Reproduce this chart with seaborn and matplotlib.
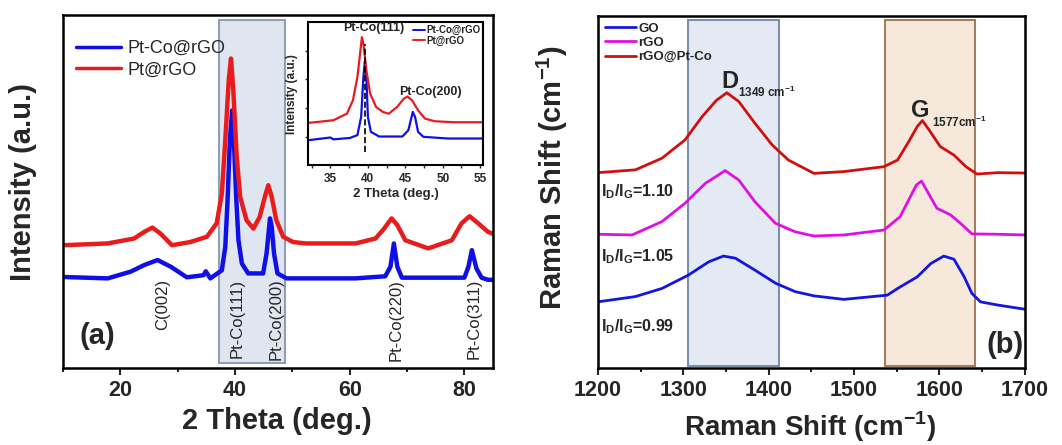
import numpy as np
import pandas as pd
import matplotlib
matplotlib.use("Agg")
import matplotlib.pyplot as plt
import seaborn as sns

# ---- XRD data (panel a) ----
xrd_x_red = [10.0, 17.8, 22.4, 24.2, 25.6, 27.0, 29.0, 32.2, 35.1, 36.8, 37.7, 38.3, 38.9, 39.3,
             39.7, 40.3, 40.9, 42.0, 43.2, 44.3, 45.2, 45.8, 46.4, 47.2, 48.4, 50.1, 52.4, 61.0,
             64.5, 66.0, 67.3, 68.3, 69.7, 73.7, 77.8, 79.5, 80.9, 82.4, 84.1, 85.0]
xrd_y_red = [34.8, 35.3, 36.7, 38.6, 39.8, 38.1, 34.8, 35.7, 37.2, 41.0, 49.4, 64.5, 81.5, 87.7,
             78.7, 59.8, 48.5, 41.9, 39.5, 42.8, 48.5, 51.8, 48.5, 41.9, 37.2, 35.7, 35.3, 35.3,
             36.7, 39.5, 42.4, 40.5, 36.2, 33.9, 36.2, 41.0, 43.0, 41.0, 38.6, 38.0]
xrd_x_blue = [10.0, 17.8, 21.8, 24.2, 26.5, 28.8, 31.6, 34.5, 34.9, 35.7, 37.7, 38.3, 38.7, 39.1,
              39.5, 39.8, 40.2, 40.6, 41.2, 42.3, 44.9, 45.5, 46.1, 46.4, 46.8, 47.4, 49.0, 61.0,
              66.2, 67.1, 67.7, 68.3, 69.1, 80.0, 80.7, 81.3, 82.1, 83.0, 84.1, 85.0]
xrd_y_blue = [25.8, 25.4, 27.3, 29.2, 30.6, 28.7, 25.7, 26.3, 27.4, 25.4, 27.7, 34.3, 47.5, 64.5,
              73.0, 64.5, 48.5, 36.2, 29.6, 26.8, 26.8, 32.5, 42.4, 40.0, 32.5, 26.8, 25.4, 25.4,
              26.0, 28.7, 35.3, 28.7, 25.6, 25.6, 28.7, 33.4, 28.2, 25.6, 25.0, 25.0]
peak_labels = ["C(002)", "Pt-Co(111)", "Pt-Co(200)", "Pt-Co(220)", "Pt-Co(311)"]
peak_pos = [27.4, 40.3, 47.2, 68.1, 81.7]

# inset (zoom on 32-55 deg)
ins_x_red = [32.0, 35.4, 37.2, 38.0, 38.6, 39.0, 39.2, 39.4, 39.8, 40.3, 41.1, 42.0, 42.8, 43.9,
             44.8, 45.3, 45.9, 46.7, 47.6, 48.9, 51.5, 55.4]
ins_y_red = [0.295, 0.314, 0.36, 0.453, 0.616, 0.80, 0.895, 0.85, 0.663, 0.50, 0.407, 0.372, 0.36,
             0.407, 0.465, 0.48, 0.453, 0.384, 0.326, 0.307, 0.30, 0.30]
ins_x_blue = [32.0, 35.0, 35.4, 37.6, 38.6, 39.1, 39.4, 39.6, 39.8, 40.0, 40.4, 41.5, 44.6, 45.4,
              46.0, 46.3, 46.7, 47.4, 50.7, 55.4]
ins_y_blue = [0.174, 0.193, 0.18, 0.19, 0.21, 0.337, 0.616, 0.73, 0.616, 0.337, 0.233, 0.20, 0.20,
              0.244, 0.372, 0.337, 0.233, 0.198, 0.186, 0.186]

# ---- Raman data (panel b) ----
ram_x_red = [1200, 1244, 1275, 1302, 1322, 1339, 1351, 1365, 1384, 1404, 1423, 1453, 1488, 1535,
             1551, 1564, 1574, 1580, 1588, 1601, 1617, 1631, 1644, 1668, 1700]
ram_y_red = [55.5, 56.3, 59.6, 64.8, 71.4, 76.1, 78.2, 75.7, 69.5, 63.4, 59.1, 55.3, 55.8, 57.2,
             59.1, 64.3, 68.6, 70.3, 67.6, 62.9, 60.5, 57.2, 55.1, 55.5, 55.4]
ram_x_mag = [1200, 1240, 1275, 1302, 1326, 1341, 1349, 1365, 1384, 1408, 1431, 1453, 1488, 1535,
             1554, 1566, 1573, 1579, 1586, 1597, 1613, 1627, 1638, 1668, 1700]
ram_y_mag = [38.0, 37.8, 41.6, 46.8, 52.5, 54.8, 56.1, 53.4, 47.2, 41.1, 38.7, 37.5, 37.8, 39.2,
             43.0, 48.7, 52.0, 53.1, 50.1, 45.4, 43.5, 40.6, 38.1, 38.0, 37.8]
ram_x_blue = [1200, 1244, 1275, 1306, 1330, 1347, 1361, 1384, 1408, 1431, 1453, 1488, 1539, 1551,
              1574, 1590, 1605, 1617, 1629, 1638, 1648, 1668, 1700]
ram_y_blue = [18.8, 20.3, 22.6, 26.4, 30.2, 31.8, 31.2, 27.8, 24.1, 21.7, 20.5, 19.5, 20.7, 22.6,
              25.9, 29.7, 31.8, 30.9, 25.9, 21.2, 18.8, 17.9, 16.7]
ratio_labels = ["1.10", "1.05", "0.99"]
ratio_y = [48.7, 30.2, 10.3]

xrd = pd.concat([
    pd.DataFrame({"x": xrd_x_blue, "y": xrd_y_blue, "s": "Pt-Co@rGO"}),
    pd.DataFrame({"x": xrd_x_red, "y": xrd_y_red, "s": "Pt@rGO"}),
])
ins = pd.concat([
    pd.DataFrame({"x": ins_x_blue, "y": ins_y_blue, "s": "Pt-Co@rGO"}),
    pd.DataFrame({"x": ins_x_red, "y": ins_y_red, "s": "Pt@rGO"}),
])
ram = pd.concat([
    pd.DataFrame({"x": ram_x_blue, "y": ram_y_blue, "s": "GO"}),
    pd.DataFrame({"x": ram_x_mag, "y": ram_y_mag, "s": "rGO"}),
    pd.DataFrame({"x": ram_x_red, "y": ram_y_red, "s": "rGO@Pt-Co"}),
])

sns.set_style("ticks")
plt.rcParams["font.family"] = ["Liberation Sans", "DejaVu Sans"]
plt.rcParams["mathtext.fontset"] = "custom"
plt.rcParams["mathtext.rm"] = "Liberation Sans"
plt.rcParams["mathtext.bf"] = "Liberation Sans:bold"

fig = plt.figure(figsize=(10.62, 4.45), dpi=100)
ax1 = fig.add_axes([0.0593, 0.173, 0.405, 0.793])
ax2 = fig.add_axes([0.563, 0.173, 0.402, 0.791])
axi = fig.add_axes([0.290, 0.629, 0.165, 0.321])

def style_axis(ax, lw=1.8):
    for sp in ax.spines.values():
        sp.set_visible(True)
        sp.set_linewidth(lw)
        sp.set_color("black")

# ---- panel (a) ----
ax1.axvspan(37.2, 48.7, ymin=0.014, ymax=0.986, facecolor="#dfe6f0", edgecolor="#8ea0b8", lw=1.5)
sns.lineplot(data=xrd, x="x", y="y", hue="s", palette=["#1010e6", "#e81c1c"], sort=False,
             estimator=None, lw=3.2, ax=ax1)
ax1.set_xlim(10, 85)
ax1.set_ylim(0, 100)
ax1.set_xticks([20, 40, 60, 80])
ax1.set_xticks([10, 30, 50, 70], minor=True)
ax1.set_yticks([])
ax1.tick_params(axis="x", which="major", direction="out", length=5, width=1.5, labelsize=15.5)
ax1.tick_params(axis="x", which="minor", direction="out", length=3, width=1.5)
for t in ax1.get_xticklabels():
    t.set_fontweight("bold")
ax1.set_xlabel("2 Theta (deg.)", fontsize=21, fontweight="bold")
ax1.set_ylabel("Intensity (a.u.)", fontsize=21, fontweight="bold")
ax1.xaxis.set_label_coords(0.498, -0.11)
ax1.yaxis.set_label_coords(-0.06, 0.527)
style_axis(ax1)
leg = ax1.legend(loc="upper left", bbox_to_anchor=(0.0, 0.965), frameon=False, fontsize=13,
                 handlelength=2.5, handletextpad=0.4, labelspacing=0.25, borderaxespad=0.3)
for h in leg.get_lines():
    h.set_linewidth(2.5)
for lab, xp in zip(peak_labels, peak_pos):
    ax1.text(xp, 25.3, lab, rotation=90, ha="center", va="top", fontsize=12)
ax1.text(16.0, 9.0, "(a)", ha="center", va="center", fontsize=21, fontweight="bold")

# ---- inset ----
sns.lineplot(data=ins, x="x", y="y", hue="s", palette=["#1010e6", "#e81c1c"], sort=False,
             estimator=None, lw=1.6, ax=axi)
axi.plot([39.65, 39.65], [0.093, 0.85], ls="--", color="black", lw=1.2)
axi.set_xlim(32, 55.4)
axi.set_ylim(0, 1)
axi.set_xticks([35, 40, 45, 50, 55])
axi.set_xticks([32.5, 37.5, 42.5, 47.5, 52.5], minor=True)
axi.set_yticks([0.2, 0.4, 0.6, 0.8])
axi.set_yticklabels([])
axi.tick_params(axis="both", which="both", direction="out", length=2, width=1, labelsize=8.5)
for t in axi.get_xticklabels():
    t.set_fontweight("bold")
axi.set_xlabel("2 Theta (deg.)", fontsize=9.5, fontweight="bold", labelpad=2)
axi.set_ylabel("Intensity (a.u.)", fontsize=8.5, fontweight="bold", labelpad=2)
style_axis(axi, 1.5)
li = axi.legend(loc="upper right", frameon=False, prop={"size": 7, "weight": "bold"},
                handlelength=1.3, handletextpad=0.1, labelspacing=0.05, borderaxespad=0.1,
                borderpad=0.2)
for h in li.get_lines():
    h.set_linewidth(1.4)
axi.text(40.8, 0.96, "Pt-Co(111)", ha="center", va="center", fontsize=9, fontweight="bold")
axi.text(48.3, 0.51, "Pt-Co(200)", ha="center", va="center", fontsize=9, fontweight="bold")

# ---- panel (b) ----
ax2.axvspan(1306, 1412, ymin=0.005, ymax=0.989, facecolor="#e3eaf4", edgecolor="#7d8fa8", lw=1.5)
ax2.axvspan(1536, 1642, ymin=0.005, ymax=0.989, facecolor="#f6e9dc", edgecolor="#a0805f", lw=1.5)
sns.lineplot(data=ram, x="x", y="y", hue="s", palette=["#1515e0", "#e010e0", "#d01010"],
             sort=False, estimator=None, lw=2.0, ax=ax2)
ax2.set_xlim(1200, 1700)
ax2.set_ylim(0, 100)
ax2.set_xticks([1200, 1300, 1400, 1500, 1600, 1700])
ax2.set_xticks([1250, 1350, 1450, 1550, 1650], minor=True)
ax2.set_yticks([])
ax2.tick_params(axis="x", which="major", direction="out", length=5, width=1.5, labelsize=15.5)
ax2.tick_params(axis="x", which="minor", direction="out", length=3, width=1.5)
for t in ax2.get_xticklabels():
    t.set_fontweight("bold")
ax2.set_xlabel(r"Raman Shift (cm$^{\mathbf{-1}}$)", fontsize=20, fontweight="bold")
ax2.set_ylabel(r"Raman Shift (cm$^{\mathbf{-1}}$)", fontsize=21, fontweight="bold")
ax2.xaxis.set_label_coords(0.497, -0.118)
ax2.yaxis.set_label_coords(-0.066, 0.54)
style_axis(ax2)
lb = ax2.legend(loc="upper left", bbox_to_anchor=(0.0, 1.0), frameon=False,
                prop={"size": 9.5, "weight": "bold"}, handlelength=2.4, handletextpad=0.15,
                labelspacing=0.15, borderaxespad=0.3, borderpad=0.2)
for h in lb.get_lines():
    h.set_linewidth(2.0)
ax2.text(1345, 79.5, "D", ha="left", va="baseline", fontsize=17, fontweight="bold")
ax2.text(1364, 77.0, r"1349 cm$^{\mathbf{-1}}$", ha="left", va="baseline", fontsize=8.5,
         fontweight="bold")
ax2.text(1567, 71.4, "G", ha="left", va="baseline", fontsize=17, fontweight="bold")
ax2.text(1591, 68.6, r"1577cm$^{\mathbf{-1}}$", ha="left", va="baseline", fontsize=8.5,
         fontweight="bold")
for lab, yp in zip(ratio_labels, ratio_y):
    ax2.text(1204, yp, r"I$_{\mathbf{D}}$/I$_{\mathbf{G}}$=" + lab, ha="left", va="baseline",
             fontsize=11.5, fontweight="bold")
ax2.text(1677, 6.5, "(b)", ha="center", va="center", fontsize=21, fontweight="bold")

fig.savefig("out.png", dpi=100)
